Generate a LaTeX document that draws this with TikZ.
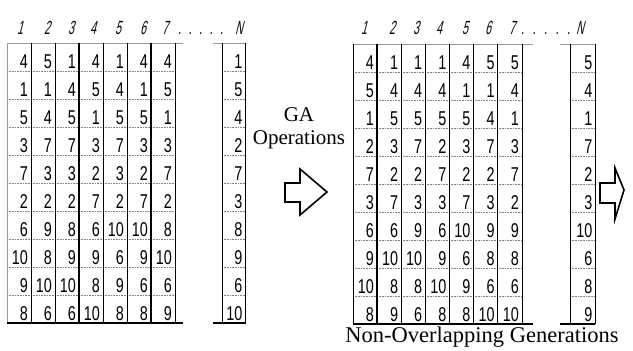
\documentclass[tikz,border=0pt]{standalone}
\usepackage{fontspec}
\setmainfont{Liberation Serif}
\newfontfamily\cellfont[FakeStretch=0.72]{Liberation Sans}
\newfontfamily\headfont[FakeStretch=0.55,FakeSlant=0.25]{Liberation Sans}

\tikzset{
  cell/.style={anchor=base east, inner sep=0pt, font=\cellfont\fontsize{20}{20}\selectfont},
  head/.style={anchor=base, inner sep=0pt, font=\headfont\fontsize{19}{19}\selectfont},
  rowline/.style={gray, densely dotted, line width=0.6pt},
  colline/.style={black, line width=0.8pt},
  edgeline/.style={gray!80, line width=0.8pt},
  footrule/.style={black, line width=1.3pt},
  blockarrow/.style={draw=black, line width=1.6pt, line join=miter, fill=white},
  txt/.style={anchor=base, inner sep=0pt, font=\fontsize{21}{23}\selectfont},
}

\begin{document}
\begin{tikzpicture}[x=1pt,y=-1pt]
\useasboundingbox (0,0) rectangle (633,351);

% ---------- column indices ----------
\foreach \n/\x in {1/20,2/47,3/71,4/93,5/118,6/143,7/165}
  \node[head] (lh-\n) at (\x,34) {\n};
\node[head, anchor=base west] (lh-dots) at (178,34) {.\hspace{7.6pt}.\hspace{7.6pt}.\hspace{7.6pt}.\hspace{7.6pt}.};
\node[head] (lh-N) at (239,34) {N};

\foreach \n/\x in {1/364,2/392,3/416,4/439,5/465,6/488,7/512}
  \node[head] (rh-\n) at (\x,34) {\n};
\node[head, anchor=base west] (rh-dots) at (521,34) {.\hspace{8.6pt}.\hspace{8.6pt}.\hspace{8.6pt}.\hspace{8.6pt}.};
\node[head] (rh-N) at (580,34) {N};

% ---------- initial population ----------
\def\LX{7}\def\LW{24}\def\LY{43}\def\RH{28}
\foreach \i in {1,...,9} {
  \draw[rowline] (\LX,\LY+\i*\RH) -- (\LX+7*\LW,\LY+\i*\RH);
  \draw[rowline] (222,\LY+\i*\RH) -- (245,\LY+\i*\RH);
}
\draw[edgeline] (\LX,\LY) -- (183,\LY);
\draw[edgeline] (\LX,\LY) -- (\LX,\LY+10*\RH);
\foreach \i in {1,...,7}
  \draw[colline] (\LX+\i*\LW,\LY) -- (\LX+\i*\LW,\LY+10*\RH);
\draw[line width=1.3pt] (\LX+3*\LW,\LY) -- (\LX+3*\LW,\LY+10*\RH);
\draw[line width=1.3pt] (\LX+6*\LW,\LY) -- (\LX+6*\LW,\LY+10*\RH);
\draw[footrule] (\LX,\LY+10*\RH) -- (183,\LY+10*\RH);
\draw[edgeline] (213,\LY) -- (246,\LY);
\draw[colline] (222,\LY) -- (222,\LY+10*\RH);
\draw[colline] (245,\LY) -- (245,\LY+10*\RH);
\draw[footrule] (213,\LY+10*\RH) -- (246,\LY+10*\RH);

\foreach \row [count=\r] in {
  {4,5,1,4,1,4,4,1},
  {1,1,4,5,4,1,5,5},
  {5,4,5,1,5,5,1,4},
  {3,7,7,3,7,3,3,2},
  {7,3,3,2,3,2,7,7},
  {2,2,2,7,2,7,2,3},
  {6,9,8,6,10,10,8,8},
  {10,8,9,9,6,9,10,9},
  {9,10,10,8,9,6,6,6},
  {8,6,6,10,8,8,9,10}} {
  \foreach \v [count=\c] in \row {
    \pgfmathsetmacro\cx{\c<8 ? \LX+\c*\LW-3 : 242.5}
    \node[cell] (L-\r-\c) at (\cx,\LY+\r*\RH-3) {\v};
  }
}

% ---------- new population ----------
\def\RX{353}\def\RW{24.14}\def\RY{44}
\foreach \i in {1,...,9} {
  \draw[rowline] (\RX,\RY+\i*\RH) -- (\RX+7*\RW,\RY+\i*\RH);
  \draw[rowline] (570,\RY+\i*\RH) -- (595,\RY+\i*\RH);
}
\draw[edgeline] (\RX,\RY) -- (533,\RY);
\foreach \i in {0,...,7}
  \draw[colline] (\RX+\i*\RW,\RY) -- (\RX+\i*\RW,\RY+10*\RH);
\draw[line width=1.3pt] (\RX+\RW,\RY) -- (\RX+\RW,\RY+10*\RH);
\draw[footrule] (\RX,\RY+10*\RH) -- (533,\RY+10*\RH);
\draw[edgeline] (560,\RY) -- (595,\RY);
\draw[colline] (570,\RY) -- (570,\RY+10*\RH);
\draw[colline] (595,\RY) -- (595,\RY+10*\RH);
\draw[footrule] (560,\RY+10*\RH) -- (595,\RY+10*\RH);

\foreach \row [count=\r] in {
  {4,1,1,1,4,5,5,5},
  {5,4,4,4,1,1,4,4},
  {1,5,5,5,5,4,1,1},
  {2,3,7,2,3,7,3,7},
  {7,2,2,7,2,2,7,2},
  {3,7,3,3,7,3,2,3},
  {6,6,9,6,10,9,9,10},
  {9,10,10,9,6,8,8,6},
  {10,8,8,10,9,6,6,8},
  {8,9,6,8,8,10,10,9}} {
  \foreach \v [count=\c] in \row {
    \pgfmathsetmacro\cx{\c<8 ? \RX+\c*\RW-3 : 592.5}
    \node[cell] (R-\r-\c) at (\cx,\RY+\r*\RH-3) {\v};
  }
}

% ---------- captions ----------
\node[txt] (ga) at (299,121) {GA};
\node[txt] (ops) at (299,144) {Operations};
\node[txt, font=\fontsize{22.5}{24}\selectfont] (nog) at (482,342) {Non-Overlapping Generations};

% ---------- block arrows ----------
\draw[blockarrow] (285,183) -- (300,183) -- (300,169) -- (327,192)
  -- (300,215) -- (300,202) -- (285,202) -- cycle;
\draw[blockarrow] (600,183) -- (615,183) -- (615,168) -- (624,190)
  -- (615,219) -- (615,203) -- (600,203) -- cycle;
\end{tikzpicture}
\end{document}
